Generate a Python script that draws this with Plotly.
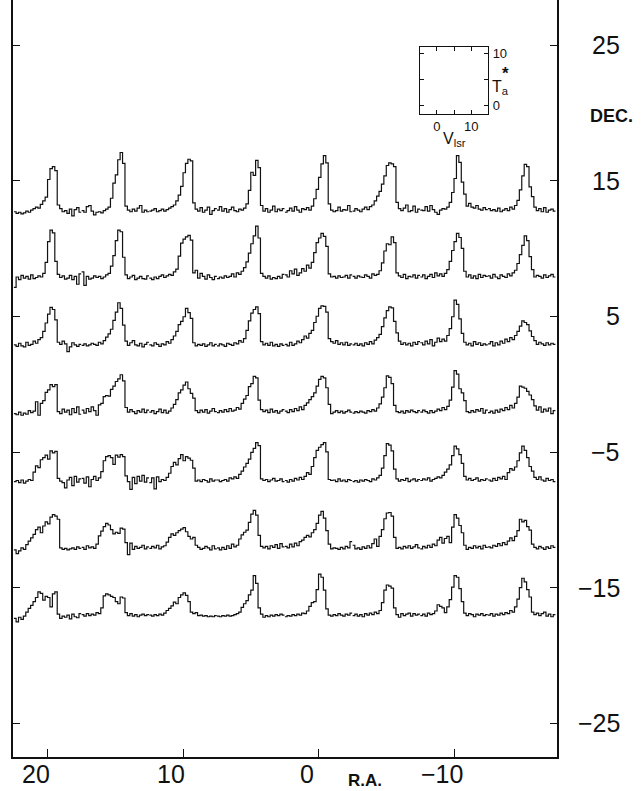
import plotly.graph_objects as go

# ---------------- data ----------------
ra_centers = [20, 15, 10, 5, 0, -5, -10, -15]
dec_centers = [15, 10, 5, 0, -5, -10, -15]
velocity_edges = [-4.8, -4.1, -3.4, -2.7, -2.0, -1.3, -0.6, 0.1, 0.8, 1.5, 2.2, 2.9, 3.6, 4.3,
                  5.0, 5.7, 6.4, 7.1, 7.8, 8.5, 9.2, 9.9, 10.6, 11.3, 12.0, 12.7, 13.4, 14.1, 14.8]

ra_tick_values = [20, 10, 0, -10]
ra_tick_labels = ["20", "10", "0", "\u221210"]
dec_tick_values = [25, 15, 5, -5, -15, -25]
dec_tick_labels = ["25", "15", "5", "\u22125", "\u221215", "\u221225"]
inset_v_ticks = [0, 10]
inset_v_labels = ["0", "10"]
inset_v_minor = [5]
inset_t_ticks = [0, 10]
inset_t_labels = ["0", "10"]
inset_t_minor = [5]

# Antenna temperature Ta* (K) per channel, 8 RA positions per declination row
spectra_dec_p15 = [
    [0.3, 0.0, 0.2, -0.1, 0.1, 0.4, 0.2, 0.6, 0.9, 1.2, 1.0, 1.7, 2.4, 3.1, 6.5, 8.6, 9.0, 8.2, 1.6, 0.9, 0.3, 0.5, 0.0, 0.8, -0.5, 0.7, 1.1, 0.2],
    [0.5, 0.2, 1.3, 1.5, 0.4, -0.3, 0.2, 0.3, 0.1, 0.5, 0.8, 1.2, 2.9, 5.8, 7.4, 10.3, 11.7, 9.6, 1.4, 0.6, 0.3, 0.8, 0.4, 1.0, 1.5, 0.2, 0.6, 0.3],
    [0.4, 0.6, 0.9, 0.3, 0.5, 0.8, 0.4, 0.7, 1.0, 1.3, 1.6, 2.4, 3.5, 5.2, 7.8, 9.6, 10.4, 10.1, 2.0, 0.8, 0.4, 1.1, 0.2, 0.6, 1.2, -0.2, 0.5, 0.9],
    [0.6, 1.3, 0.4, 0.9, 0.2, 0.7, 1.2, 0.5, 0.3, 0.8, 0.6, 1.0, 1.8, 4.4, 7.9, 7.3, 10.2, 8.8, 1.5, 0.4, 0.9, 0.2, 0.6, 1.4, 0.3, 0.8, 0.5, 0.9],
    [0.2, 0.5, 1.0, 0.4, 1.3, 0.6, 0.2, 0.9, 0.7, 1.1, 0.6, 1.4, 2.8, 4.6, 6.9, 9.5, 11.1, 9.7, 1.8, 0.6, 0.3, 0.5, 1.2, 0.4, 0.7, 0.6, 1.5, 0.3],
    [0.4, 0.9, 0.6, 0.3, 0.8, 1.2, 0.7, 1.3, 1.6, 2.4, 3.3, 4.2, 5.6, 7.2, 9.2, 9.7, 9.5, 9.0, 2.1, 0.9, 0.5, 1.0, 1.6, 0.3, 0.5, 1.4, 0.2, 0.8],
    [0.6, 0.5, 1.3, 0.4, 1.5, 0.7, 0.2, -0.2, 0.6, 0.9, 0.8, 1.2, 2.1, 4.0, 6.7, 11.1, 9.8, 6.0, 3.7, 1.4, 1.9, 1.2, 1.0, 1.5, 0.8, 0.6, 1.1, 0.7],
    [0.9, 0.5, 0.7, 0.4, 1.0, 0.3, 0.6, 0.9, 0.5, 1.2, 0.8, 1.5, 2.5, 4.5, 7.2, 9.4, 9.0, 5.1, 3.2, 1.2, 0.5, 0.9, 0.3, 1.1, 0.2, 0.6, 0.8, 0.4],
]
spectra_dec_p10 = [
    [-1.2, 0.8, 0.3, 1.1, 0.6, 0.9, 0.4, 1.2, 0.5, 0.7, 1.0, 0.8, 1.5, 3.6, 7.6, 9.8, 9.3, 3.8, 1.3, 0.7, 1.0, 0.4, 0.6, 1.1, 0.3, 0.9, -0.6, 1.4],
    [1.8, -0.8, 0.9, 0.4, 0.6, 1.0, 0.7, 0.9, 0.5, 0.8, 1.2, 1.5, 2.9, 4.9, 7.8, 9.8, 9.5, 4.6, 1.2, 0.5, 0.8, 1.1, 0.3, 0.6, 0.9, 0.5, 0.4, 1.0],
    [0.6, 0.3, 0.8, 0.5, 0.9, 1.2, 0.7, 1.0, 1.3, 1.1, 1.8, 2.3, 4.8, 7.3, 8.1, 8.5, 8.8, 7.9, 1.6, 2.1, 0.6, 1.5, 0.9, 0.4, 1.2, 0.7, 0.3, 0.9],
    [0.5, 0.8, 0.6, 1.0, 0.7, 0.9, 1.4, 0.8, 1.6, 1.3, 1.9, 2.6, 3.7, 5.4, 7.2, 8.7, 10.6, 8.3, 1.5, 0.9, 0.6, 1.0, 0.4, 0.7, 0.5, 0.9, 0.6, 1.3],
    [1.2, 0.8, 2.0, 1.4, 2.3, 1.1, 1.6, 2.4, 1.9, 3.1, 2.5, 3.6, 5.5, 7.4, 8.3, 9.2, 8.6, 6.7, 1.4, 0.8, 0.9, 0.6, 1.0, 0.7, 0.8, 1.1, 0.6, 1.2],
    [0.9, 0.6, 1.0, 0.8, 0.7, 1.2, 0.9, 0.6, 1.4, 1.1, 1.3, 2.0, 3.5, 5.8, 7.2, 7.0, 8.5, 7.4, 1.6, 1.0, 0.7, 1.3, 0.5, 0.9, 0.8, 1.2, 0.6, 1.1],
    [0.8, 1.2, 0.5, 0.9, 1.3, 0.7, 1.6, 1.0, 1.4, 0.9, 1.5, 2.2, 3.8, 5.9, 7.6, 9.2, 8.4, 6.3, 1.9, 0.8, 1.2, 0.6, 1.0, 0.5, 1.3, 0.7, 1.1, 0.9],
    [1.0, 0.6, 1.3, 0.8, 0.5, 1.2, 0.9, 0.7, 1.4, 1.0, 1.6, 2.1, 3.4, 5.1, 6.9, 8.7, 7.8, 4.7, 2.2, 0.8, 1.1, 0.9, 0.6, 1.2, 0.7, 1.0, 1.3, 0.8],
]
spectra_dec_p5 = [
    [0.8, 0.5, 1.1, 0.6, 0.4, 1.3, 0.7, 0.9, 1.5, 1.1, 1.8, 2.2, 3.4, 5.0, 6.7, 8.0, 7.6, 5.6, 1.3, 0.9, 1.5, 1.0, -0.5, 0.4, 1.2, 0.8, 0.5, 0.9],
    [0.7, 1.0, 0.6, 0.8, 1.1, 0.9, 0.7, 1.3, 1.0, 1.6, 2.3, 2.9, 3.8, 5.5, 7.1, 8.9, 7.8, 4.6, 1.5, 0.7, 1.2, 1.6, 0.8, 0.6, 1.1, 0.4, 0.9, 1.3],
    [0.8, 0.6, 1.2, 0.9, 0.5, 1.0, 0.8, 1.4, 1.1, 1.8, 2.5, 3.4, 4.7, 5.3, 6.2, 7.8, 7.0, 5.9, 1.2, 0.6, 0.9, 0.7, 1.0, 0.5, 0.8, 1.2, 0.6, 0.9],
    [0.6, 1.0, 0.8, 0.5, 1.1, 0.9, 0.7, 1.2, 1.0, 1.6, 1.3, 2.0, 3.6, 5.4, 6.9, 7.6, 8.1, 6.8, 1.4, 0.8, 1.1, 0.7, 1.3, 0.6, 0.9, 0.5, 1.0, 0.7],
    [0.9, 0.6, 1.3, 0.7, 1.0, 1.5, 1.2, 1.8, 2.5, 2.1, 3.0, 3.6, 5.1, 6.3, 7.8, 8.3, 8.2, 7.1, 2.0, 1.4, 1.1, 1.6, 0.9, 1.2, 0.8, 1.3, 0.7, 1.0],
    [0.8, 1.1, 0.7, 1.0, 0.6, 1.2, 0.9, 1.4, 1.0, 1.7, 2.2, 2.8, 4.3, 6.0, 7.4, 8.1, 7.9, 5.3, 3.1, 1.5, 0.9, 1.2, 0.8, 1.1, 0.6, 1.3, 0.9, 1.4],
    [1.2, 0.8, 1.5, 1.0, 1.8, 0.6, 1.3, 2.1, 1.4, 1.9, 1.5, 2.6, 3.9, 6.2, 9.4, 8.6, 5.8, 3.0, 1.3, 0.8, 1.1, 0.6, 1.4, 0.9, 1.2, 0.7, 1.0, 0.8],
    [1.0, 1.4, 0.6, 1.2, 0.8, 1.5, 1.1, 1.9, 1.4, 2.2, 1.8, 2.6, 3.4, 4.4, 5.4, 5.1, 4.7, 3.5, 2.4, 1.6, 0.9, 1.3, 1.0, 0.7, 1.2, 0.8, 1.1, 0.9],
]
spectra_dec_0 = [
    [0.6, 0.4, 0.9, 0.3, 0.7, 0.5, 1.2, 0.8, 1.1, 2.9, 0.3, 2.6, 3.1, 4.7, 5.2, 6.2, 5.8, 6.2, 1.0, 0.6, 1.5, 0.9, 1.3, 0.4, 1.6, 0.8, 1.9, 0.5],
    [1.3, 0.7, 1.6, 1.0, 1.9, 1.2, 0.3, 2.3, 2.6, 3.9, 4.1, 4.0, 5.3, 5.9, 6.8, 7.3, 8.1, 6.9, 1.8, 0.9, 1.4, 1.0, 0.6, 1.2, 0.9, 1.5, 0.8, 1.3],
    [0.9, 1.2, 0.6, 1.0, 1.5, 0.8, 1.3, 0.7, 1.1, 1.7, 2.4, 3.3, 4.6, 5.2, 6.1, 6.7, 5.4, 4.5, 3.6, 1.2, 0.8, 1.3, 0.9, 1.4, 0.7, 1.1, 1.6, 1.0],
    [0.8, 1.2, 0.9, 1.4, 1.0, 1.6, 1.1, 1.3, 1.8, 1.5, 2.6, 3.4, 4.1, 5.8, 6.4, 7.8, 7.5, 3.2, 1.4, 1.0, 1.3, 0.8, 1.5, 0.9, 1.2, 0.7, 1.1, 1.4],
    [1.1, 0.8, 1.4, 1.0, 1.6, 1.2, 1.9, 1.4, 2.2, 2.7, 3.3, 3.9, 4.6, 5.9, 7.2, 7.8, 7.5, 5.6, 2.4, 0.6, 0.9, 1.2, 0.8, 1.1, 0.7, 1.0, 1.3, 0.9],
    [0.7, 1.0, 0.8, 1.1, 0.9, 0.7, 1.2, 1.0, 1.4, 1.1, 1.7, 2.5, 3.8, 5.6, 7.9, 7.6, 6.4, 2.2, 1.0, 0.8, 1.1, 0.7, 1.2, 0.9, 1.3, 1.0, 0.8, 1.2],
    [0.9, 1.3, 1.0, 0.7, 1.2, 0.8, 1.1, 1.5, 1.2, 1.8, 1.4, 2.0, 3.2, 5.7, 8.9, 8.2, 5.4, 4.6, 3.1, 1.0, 0.8, 1.2, 0.9, 1.4, 1.1, 1.6, 0.7, 1.3],
    [0.8, 1.1, 0.7, 1.3, 0.9, 1.5, 1.2, 1.8, 1.4, 2.2, 1.7, 2.6, 3.8, 5.9, 5.7, 5.5, 4.9, 4.2, 3.3, 2.1, 1.3, 1.9, 0.9, 1.5, 1.1, 1.7, 0.6, 1.2],
]
spectra_dec_m5 = [
    [0.6, 0.8, 0.4, 0.9, 0.3, 0.7, 1.0, 0.8, 2.4, 3.6, 3.3, 4.8, 5.2, 5.7, 4.9, 6.5, 6.1, 6.4, 1.2, 0.7, 0.4, -0.6, 0.9, 1.4, -0.2, 1.6, 0.5, 1.1],
    [1.2, 0.3, 1.5, -0.4, 1.0, 1.6, 0.8, 1.3, 2.5, 4.6, 5.4, 5.6, 5.2, 3.9, 5.7, 5.3, 5.8, 5.4, 1.7, 0.6, -0.9, 1.4, 0.2, 1.6, 0.7, 1.8, 0.5, 1.3],
    [0.4, 1.3, -0.8, 1.5, 0.6, 1.0, 0.8, 1.4, 2.2, 3.5, 4.3, 3.8, 5.0, 5.8, 4.6, 5.4, 5.1, 4.7, 3.2, 0.7, 0.9, 0.6, 1.0, 0.8, 0.5, 1.1, 0.7, 0.9],
    [0.9, 0.6, 0.8, 1.0, 0.7, 1.3, 1.1, 1.5, 1.2, 2.0, 2.6, 3.4, 4.1, 4.9, 6.2, 7.0, 8.1, 7.5, 1.1, 0.8, 1.0, 0.6, 0.9, 1.2, 0.7, 0.8, 1.1, 0.6],
    [0.8, 0.5, 1.0, 0.7, 1.2, 0.9, 1.4, 1.0, 1.6, 2.3, 2.0, 3.5, 5.2, 6.6, 7.2, 7.7, 8.1, 6.3, 1.0, 0.8, 0.9, 0.6, 1.1, 0.7, 0.9, 0.6, 1.0, 0.8],
    [0.6, 0.8, 0.5, 0.9, 0.7, 1.0, 0.8, 0.6, 1.1, 0.9, 1.3, 1.8, 3.2, 5.6, 7.9, 7.6, 6.5, 3.0, 1.1, 0.7, 1.0, 0.8, 1.2, 0.6, 0.9, 1.1, 0.7, 1.0],
    [0.8, 1.1, 0.9, 1.3, 0.7, 1.0, 1.2, 1.5, 1.3, 1.8, 2.4, 3.0, 3.8, 5.6, 7.4, 6.9, 5.8, 4.1, 1.6, 0.9, 1.2, 0.8, 1.0, 1.3, 0.7, 1.0, 0.8, 1.1],
    [0.9, 0.7, 1.2, 0.8, 1.4, 1.1, 1.6, 1.0, 2.3, 3.1, 2.8, 3.4, 4.6, 6.1, 7.4, 6.6, 5.2, 3.5, 2.6, 1.4, 1.0, 1.5, 0.9, 0.7, 1.2, 0.8, 1.0, 0.6],
]
spectra_dec_m10 = [
    [0.5, -0.2, 0.3, 0.9, 0.6, 1.5, 2.2, 2.8, 3.5, 4.4, 4.9, 3.8, 5.1, 5.9, 5.5, 6.8, 7.3, 7.0, 6.4, 0.9, 0.6, 0.8, 0.5, 0.7, 0.9, 0.6, 1.1, 0.8],
    [1.0, 0.6, 1.3, 0.9, 1.1, 0.8, 1.6, 3.2, 4.1, 5.0, 5.6, 5.3, 4.4, 3.6, 3.9, 3.7, 4.7, 4.5, 1.9, -0.4, 1.8, 0.6, 1.2, 0.8, 1.0, 1.4, 0.7, 1.1],
    [0.8, 1.2, 0.9, 1.4, 0.7, 1.1, 1.3, 2.0, 2.9, 3.6, 3.3, 3.8, 4.2, 4.5, 4.8, 4.0, 3.1, 2.6, 2.9, 1.4, 1.0, 0.6, 0.8, 1.2, 0.9, 0.5, 1.3, 0.7],
    [0.9, 0.5, 1.0, 0.6, 1.3, 0.8, 1.6, 1.1, 1.4, 2.6, 3.4, 3.9, 4.3, 5.8, 7.4, 8.1, 7.2, 3.3, 1.2, 0.9, 1.2, 0.7, 1.3, 1.0, 1.5, 0.8, 1.7, 1.1],
    [1.2, 0.9, 1.6, 1.1, 1.8, 1.3, 2.1, 2.4, 2.9, 3.3, 3.0, 3.8, 4.4, 5.6, 7.2, 7.9, 6.6, 4.2, 1.6, 0.7, 0.9, 0.8, 0.6, 1.0, 0.7, 1.2, 0.9, 2.1],
    [1.4, 0.7, 0.9, 0.6, 1.1, 0.8, 1.3, 0.9, 1.7, 2.6, 1.2, 3.1, 4.4, 6.5, 7.6, 7.7, 7.0, 2.9, 0.8, 1.0, 0.7, 1.2, 0.9, 1.3, 0.8, 1.1, 1.5, 0.9],
    [0.7, 1.2, 0.9, 1.4, 1.0, 1.6, 1.3, 2.4, 2.9, 1.8, 2.7, 3.1, 1.9, 4.9, 7.3, 6.6, 5.2, 3.8, 1.4, 0.6, 1.0, 0.8, 1.3, 0.9, 1.2, 0.7, 1.4, 1.0],
    [1.1, 0.9, 1.4, 1.2, 1.7, 1.3, 1.9, 1.5, 2.2, 2.8, 2.3, 3.1, 4.2, 6.4, 5.9, 6.2, 5.0, 4.3, 1.6, 1.0, 0.7, 1.2, 0.9, 0.6, 1.1, 0.8, 1.3, 1.0],
]
spectra_dec_m15 = [
    [0.4, -0.3, 0.6, 0.2, 0.8, 1.6, 2.3, 2.9, 3.6, 4.4, 5.5, 5.2, 3.9, 4.6, 4.4, 2.6, 5.1, 5.5, 1.2, 0.4, 0.8, 0.6, 1.0, 0.3, 1.2, 0.7, 0.5, 1.3],
    [1.1, 0.8, 1.3, 0.9, 1.2, 1.0, 1.5, 1.3, 2.4, 4.7, 5.1, 4.9, 4.6, 4.4, 3.6, 3.2, 4.5, 4.3, 1.5, 0.9, 1.3, 0.8, 1.1, 0.7, 1.0, 1.2, 0.9, 1.1],
    [1.0, 0.8, 1.1, 0.9, 1.2, 1.0, 1.4, 1.9, 2.3, 2.8, 3.5, 3.2, 4.4, 4.9, 5.3, 4.8, 3.6, 1.6, 1.3, 1.5, 0.9, 1.0, 0.8, 0.9, 0.7, 0.8, 0.7, 0.9],
    [0.8, 0.7, 0.9, 0.8, 1.0, 0.8, 0.9, 1.1, 1.3, 1.6, 2.5, 3.2, 3.8, 4.9, 5.8, 8.6, 7.1, 2.4, 1.2, 0.6, 0.9, 0.7, 1.0, 0.8, 1.1, 0.9, 1.2, 1.0],
    [0.7, 0.9, 0.8, 1.1, 0.9, 1.2, 1.0, 1.4, 1.3, 1.8, 2.7, 3.4, 3.6, 5.9, 8.9, 8.3, 5.8, 2.2, 1.0, 0.8, 1.1, 0.9, 1.3, 1.0, 0.8, 1.2, 1.0, 1.4],
    [0.9, 1.2, 0.8, 1.1, 0.7, 1.3, 1.0, 1.4, 1.1, 1.6, 1.3, 1.9, 3.4, 5.8, 6.8, 6.6, 6.2, 2.4, 1.1, 0.6, 1.3, 0.9, 1.2, 1.4, 0.8, 1.3, 1.0, 1.2],
    [0.9, 1.2, 0.8, 1.4, 1.1, 1.3, 1.8, 3.0, 2.7, 2.4, 1.5, 2.6, 4.0, 6.4, 8.6, 8.3, 6.1, 3.6, 1.4, 0.9, 1.3, 1.1, 0.7, 1.2, 1.0, 1.3, 0.9, 1.1],
    [1.0, 1.3, 0.8, 1.2, 1.0, 1.4, 1.1, 1.5, 1.3, 1.9, 1.6, 2.6, 4.1, 6.3, 8.1, 7.4, 5.9, 4.5, 1.6, 1.1, 1.4, 0.9, 1.3, 1.6, 0.8, 1.2, 0.7, 1.1],
]

# ---------------- layout constants ----------------
W, H = 644, 791
ML, MR, MT, MB = 13, 87, 0, 34
RA_RANGE = [22.55, -17.6]
DEC_RANGE = [-27.47, 28.32]
CELL_HALF = 2.5            # half width of one spectrum box in RA units
DEG_PER_K = 0.383          # vertical scale of spectra (deg of Dec per K)
BASE_OFFSET = -2.4         # Ta*=0 sits this far (deg) from the nominal Dec
V_RANGE = [velocity_edges[0], velocity_edges[-1]]
FONT = "Liberation Sans, Arial, Helvetica, sans-serif"
INK = "#111111"

rows = [spectra_dec_p15, spectra_dec_p10, spectra_dec_p5, spectra_dec_0,
        spectra_dec_m5, spectra_dec_m10, spectra_dec_m15]

ra_span = RA_RANGE[0] - RA_RANGE[1]
plot_h = H - MT - MB

fig = go.Figure()
layout = {}

# one hidden velocity axis per RA column
for ci, ra in enumerate(ra_centers):
    d0 = (RA_RANGE[0] - (ra + CELL_HALF)) / ra_span
    d1 = (RA_RANGE[0] - (ra - CELL_HALF)) / ra_span
    layout[f"xaxis{ci + 2}"] = dict(domain=[max(d0, 0), min(d1, 1)], range=V_RANGE,
                                    visible=False, anchor="free", position=0, fixedrange=True)

# one hidden Ta* axis per Dec row
for ri, dec in enumerate(dec_centers):
    base = dec + BASE_OFFSET
    layout[f"yaxis{ri + 2}"] = dict(domain=[0, 1],
                                    range=[(DEC_RANGE[0] - base) / DEG_PER_K,
                                           (DEC_RANGE[1] - base) / DEG_PER_K],
                                    visible=False, anchor="free", position=0, fixedrange=True)

for ri, row in enumerate(rows):
    for ci, spec in enumerate(row):
        fig.add_trace(go.Scatter(
            x=velocity_edges, y=spec + [spec[-1]],
            mode="lines", line=dict(shape="hv", color=INK, width=1.2),
            xaxis=f"x{ci + 2}", yaxis=f"y{ri + 2}",
            showlegend=False, hoverinfo="skip"))

# invisible trace on main axes so they are drawn
fig.add_trace(go.Scatter(x=[ra_centers[0]], y=[dec_centers[0]], mode="markers",
                         marker=dict(opacity=0), showlegend=False, hoverinfo="skip"))

# inset scale box (same size as one spectrum box, at RA -10)
inset_col = ra_centers.index(-10)
ix0 = (RA_RANGE[0] - (ra_centers[inset_col] + CELL_HALF)) / ra_span
ix1 = (RA_RANGE[0] - (ra_centers[inset_col] - CELL_HALF)) / ra_span
inset_y_px = [114.3, 46.7]
inset_dom_y = [(plot_h - inset_y_px[0]) / plot_h, (plot_h - inset_y_px[1]) / plot_h]
fig.add_trace(go.Scatter(x=[5], y=[5], mode="markers", marker=dict(opacity=0),
                         xaxis="x10", yaxis="y9", showlegend=False, hoverinfo="skip"))
layout["xaxis10"] = dict(domain=[ix0, ix1], range=V_RANGE, anchor="y9",
                         showline=True, linecolor=INK, linewidth=1.3, mirror="ticks",
                         ticks="inside", ticklen=4, tickwidth=1.2, tickcolor=INK,
                         tickvals=inset_v_ticks, ticktext=inset_v_labels,
                         minor=dict(tickvals=inset_v_minor, ticks="inside", ticklen=4,
                                    tickwidth=1.2, tickcolor=INK),
                         tickfont=dict(family=FONT, size=13, color=INK),
                         ticklabelstandoff=0,
                         showgrid=False, zeroline=False, fixedrange=True)
layout["yaxis9"] = dict(domain=inset_dom_y, range=[-1.8, 11.3], anchor="x10", side="right",
                        showline=True, linecolor=INK, linewidth=1.3, mirror="ticks",
                        ticks="inside", ticklen=4, tickwidth=1.2, tickcolor=INK,
                        tickvals=inset_t_ticks, ticktext=inset_t_labels,
                        minor=dict(tickvals=inset_t_minor, ticks="inside", ticklen=4,
                                   tickwidth=1.2, tickcolor=INK),
                        tickfont=dict(family=FONT, size=13, color=INK),
                        ticklabelstandoff=1,
                        showgrid=False, zeroline=False, fixedrange=True)

annotations = []
# inset axis titles
annotations.append(dict(text="V<sub>lsr</sub>", x=5.0, xref="x10", y=(plot_h - 139) / plot_h,
                        yref="paper", showarrow=False, xanchor="center", yanchor="middle",
                        font=dict(family=FONT, size=16, color=INK)))
annotations.append(dict(text="T<sub>a</sub>", x=ix1, xref="paper", xshift=2,
                        y=(plot_h - 87) / plot_h, yref="paper", showarrow=False,
                        xanchor="left", yanchor="middle",
                        font=dict(family=FONT, size=16, color=INK)))
annotations.append(dict(text="<b>*</b>", x=ix1, xref="paper", xshift=12,
                        y=(plot_h - 74) / plot_h, yref="paper", showarrow=False,
                        xanchor="left", yanchor="middle",
                        font=dict(family=FONT, size=17, color=INK)))

# declination labels (right side, right-aligned)
for v, t in zip(dec_tick_values, dec_tick_labels):
    annotations.append(dict(text=t, x=1, xref="paper", xshift=(622 - (W - MR)),
                            y=v, yref="y", showarrow=False, xanchor="right",
                            yanchor="middle", font=dict(family=FONT, size=25, color=INK)))
# RA labels
for v, t in zip(ra_tick_values, ra_tick_labels):
    annotations.append(dict(text=t, x=v, xref="x", xshift=-12, y=0, yref="paper",
                            yshift=-17, showarrow=False, xanchor="center",
                            yanchor="middle", font=dict(family=FONT, size=25, color=INK)))
annotations.append(dict(text="<b>DEC.</b>", x=1, xref="paper", xshift=(611 - (W - MR)),
                        y=(plot_h - 116) / plot_h, yref="paper", showarrow=False,
                        xanchor="center", yanchor="middle",
                        font=dict(family=FONT, size=18, color=INK)))
annotations.append(dict(text="<b>R.A.</b>", x=0, xref="paper", xshift=(365 - ML),
                        y=0, yref="paper", yshift=-23, showarrow=False,
                        xanchor="center", yanchor="middle",
                        font=dict(family=FONT, size=17, color=INK)))

fig.update_layout(
    width=W, height=H,
    margin=dict(l=ML, r=MR, t=MT, b=MB, pad=0),
    paper_bgcolor="white", plot_bgcolor="rgba(0,0,0,0)",
    showlegend=False,
    xaxis=dict(range=RA_RANGE, showline=True, linecolor=INK, linewidth=1.5, mirror=False,
               ticks="inside", ticklen=8, tickwidth=1.3, tickcolor=INK,
               tickvals=ra_tick_values, showticklabels=False,
               showgrid=False, zeroline=False, fixedrange=True),
    yaxis=dict(range=DEC_RANGE, showline=True, linecolor=INK, linewidth=1.5, mirror="ticks",
               ticks="inside", ticklen=7, tickwidth=1.3, tickcolor=INK,
               tickvals=dec_tick_values, showticklabels=False,
               showgrid=False, zeroline=False, fixedrange=True),
    annotations=annotations,
    **layout,
)

fig.write_html("out.html", config={"displayModeBar": False},
               post_script="document.body.style.margin='0';document.body.style.padding='0';")
